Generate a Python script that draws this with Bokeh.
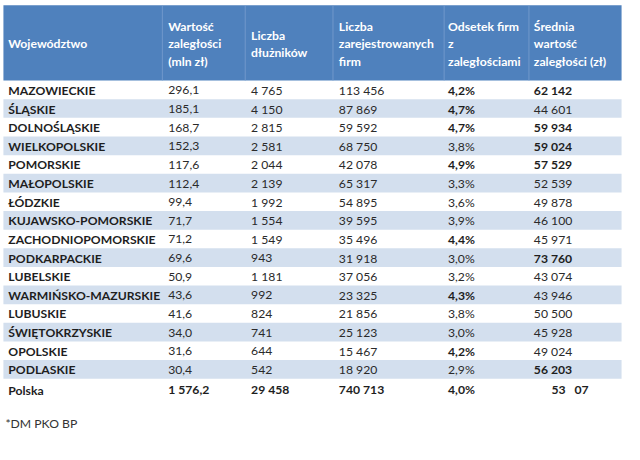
from bokeh.plotting import figure
from bokeh.models import Range1d
from bokeh.core.properties import value
from bokeh.embed import file_html
from bokeh.resources import INLINE

# ---- data ----
headers = [
    ["Województwo"],
    ["Wartość", "zaległości", "(mln zł)"],
    ["Liczba", "dłużników"],
    ["Liczba", "zarejestrowanych", "firm"],
    ["Odsetek firm", "z", "zaległościami"],
    ["Średnia", "wartość", "zaległości (zł)"],
]
regions = ["MAZOWIECKIE", "ŚLĄSKIE", "DOLNOŚLĄSKIE", "WIELKOPOLSKIE", "POMORSKIE",
           "MAŁOPOLSKIE", "ŁÓDZKIE", "KUJAWSKO-POMORSKIE", "ZACHODNIOPOMORSKIE",
           "PODKARPACKIE", "LUBELSKIE", "WARMIŃSKO-MAZURSKIE", "LUBUSKIE",
           "ŚWIĘTOKRZYSKIE", "OPOLSKIE", "PODLASKIE"]
arrears_mln = [296.1, 185.1, 168.7, 152.3, 117.6, 112.4, 99.4, 71.7, 71.2, 69.6,
               50.9, 43.6, 41.6, 34.0, 31.6, 30.4]
debtors = [4765, 4150, 2815, 2581, 2044, 2139, 1992, 1554, 1549, 943, 1181, 992,
           824, 741, 644, 542]
firms = [113456, 87869, 59592, 68750, 42078, 65317, 54895, 39595, 35496, 31918,
         37056, 23325, 21856, 25123, 15467, 18920]
share_pct = [4.2, 4.7, 4.7, 3.8, 4.9, 3.3, 3.6, 3.9, 4.4, 3.0, 3.2, 4.3, 3.8, 3.0,
             4.2, 2.9]
avg_arrears = [62142, 44601, 59934, 59024, 57529, 52539, 49878, 46100, 45971,
               73760, 43074, 43946, 50500, 45928, 49024, 56203]
total_label = "Polska"
total_values = ["1 576,2", "29 458", "740 713", "4,0%", "53\u00a0\u00a0\u00a007"]
total_share = 4.0
total_avg = 53507
footnote = "*DM PKO BP"


def fmt_int(v):
    return f"{v:,}".replace(",", " ")


def fmt_dec(v):
    return f"{v:,.1f}".replace(",", " ").replace(".", ",")


def fmt_pct(v):
    return f"{v:.1f}%".replace(".", ",")


# ---- layout ----
FONT = value("Lato")
FS = "12.2px"
col_x = [8, 172, 257, 347, 459, 547]
sep_x = [166, 251, 341, 455, 542]
left, right = 3, 637
head_top, head_bot = 5, 83
row_h = 19.3
dark = "#1e1e1e"

p = figure(width=624, height=444, x_range=Range1d(0, 640), y_range=Range1d(460, 0),
           output_backend="svg", toolbar_location=None, min_border=0,
           background_fill_color="white", border_fill_color="white")
p.axis.visible = False
p.grid.visible = False
p.outline_line_color = None

# header
p.quad(left=[left], right=[right], top=[head_top], bottom=[head_bot],
       fill_color="#4F81BD", line_color=None)
p.segment(x0=sep_x, x1=sep_x, y0=[head_top] * len(sep_x), y1=[head_bot] * len(sep_x),
          line_color="#7fa3d1", line_width=1, line_alpha=0.7)

hx, hy, ht = [], [], []
for c, lines in enumerate(headers):
    n = len(lines)
    for k, t in enumerate(lines):
        hx.append(col_x[c])
        hy.append(45 + (k - (n - 1) / 2) * 18)
        ht.append(t)
p.text(x=hx, y=hy, text=ht, text_font=FONT, text_font_size=FS, text_font_style="bold",
       text_color="white", text_baseline="middle", text_align="left")

# banded rows
n = len(regions)
band_top = [head_bot + i * row_h for i in range(n) if i % 2 == 1]
p.quad(left=left, right=right, top=band_top, bottom=[t + row_h for t in band_top],
       fill_color="#D3DFEE", line_color=None)

# cells
bx, by, bt = [], [], []
rx, ry, rt = [], [], []
for i in range(n):
    yc = head_bot + (i + 0.5) * row_h + 0.5
    bx.append(col_x[0]); by.append(yc); bt.append(regions[i])
    for c, s in [(1, fmt_dec(arrears_mln[i])), (2, fmt_int(debtors[i])), (3, fmt_int(firms[i]))]:
        rx.append(col_x[c]); ry.append(yc); rt.append(s)
    tgt = (bx, by, bt) if share_pct[i] > total_share else (rx, ry, rt)
    tgt[0].append(col_x[4]); tgt[1].append(yc); tgt[2].append(fmt_pct(share_pct[i]))
    tgt = (bx, by, bt) if avg_arrears[i] > total_avg else (rx, ry, rt)
    tgt[0].append(col_x[5]); tgt[1].append(yc); tgt[2].append(fmt_int(avg_arrears[i]))

# total row
ty = head_bot + n * row_h + 11
bx.append(col_x[0]); by.append(ty + 1); bt.append(total_label)
for c, s in enumerate(total_values):
    x = col_x[c + 1] + (18 if c == 4 else 0)
    bx.append(x); by.append(ty); bt.append(s)

p.text(x=bx, y=by, text=bt, text_font=FONT, text_font_size=FS, text_font_style="bold",
       text_color=dark, text_baseline="middle", text_align="left")
p.text(x=rx, y=ry, text=rt, text_font=FONT, text_font_size=FS, text_font_style="normal",
       text_color="#2a2a2a", text_baseline="middle", text_align="left")

# footnote
p.text(x=[5], y=[438], text=[footnote], text_font=FONT, text_font_size=FS,
       text_color="#333333", text_baseline="middle", text_align="left")

open("out.html", "w").write(file_html(p, INLINE))
